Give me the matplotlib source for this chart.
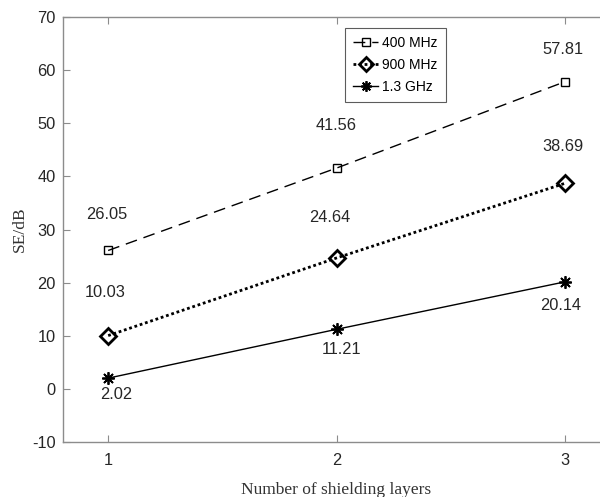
import matplotlib
matplotlib.use("Agg")
import matplotlib.pyplot as plt

plt.rcParams["axes.unicode_minus"] = False

layers = [1, 2, 3]
se_400mhz = [26.05, 41.56, 57.81]
se_900mhz = [10.03, 24.64, 38.69]
se_1p3ghz = [2.02, 11.21, 20.14]

# label anchor points, per series
lab_x_400 = [0.995, 2.0, 2.99]
lab_y_400 = [32.75, 49.5, 63.8]
lab_x_900 = [0.985, 1.97, 2.99]
lab_y_900 = [18.2, 32.2, 45.7]
lab_x_13 = [1.035, 2.02, 2.98]
lab_y_13 = [-1.15, 7.5, 15.6]

SANS = ["Liberation Sans", "DejaVu Sans"]
SERIF = ["Liberation Serif", "DejaVu Serif"]
AXC = "#8c8c8c"
TXC = "#262626"
ASTER = (8, 2, 0)  # matlab-like asterisk

fig = plt.figure(figsize=(6.0, 4.97), dpi=100)
ax = fig.add_axes([62.5 / 600, 1 - 442 / 497, 548 / 600, 425 / 497])

ax.plot(layers, se_400mhz, color="black", ls=(0, (8.5, 5)), lw=1.0,
        marker="s", ms=6, mfc="none", mec="black", mew=1.0, label="400 MHz")
ax.plot(layers, se_900mhz, color="black", ls=(0, (1, 1)), lw=2.0,
        marker="D", ms=8, mfc="none", mec="black", mew=2.0, label="900 MHz")
ax.plot(layers, se_1p3ghz, color="black", ls="-", lw=1.0,
        marker=ASTER, ms=9, mfc="black", mec="black", mew=1.3, label="1.3 GHz")

for xs, ys, vals in [(lab_x_400, lab_y_400, se_400mhz),
                     (lab_x_900, lab_y_900, se_900mhz),
                     (lab_x_13, lab_y_13, se_1p3ghz)]:
    for x, y, v in zip(xs, ys, vals):
        ax.text(x, y, f"{v:.2f}", ha="center", va="center", fontsize=11.8,
                family=SANS, color=TXC)

ax.set_xlim(0.8, 3.2)
ax.set_ylim(-10, 70)
ax.set_xticks(layers)
ax.set_yticks(range(-10, 71, 10))
ax.tick_params(direction="in", length=5, width=0.8, color=AXC,
               labelcolor=TXC, labelsize=11.8, top=True, right=True)
ax.tick_params(axis="x", pad=8)
ax.tick_params(axis="y", pad=5)
for lab in ax.get_xticklabels() + ax.get_yticklabels():
    lab.set_family(SANS)
for sp in ax.spines.values():
    sp.set_color(AXC)
    sp.set_linewidth(1.0)

ax.set_xlabel("Number of shielding layers", family=SERIF, fontsize=12.5,
              color="#333333", labelpad=10)
ax.set_ylabel("SE/dB", family=SERIF, fontsize=12.5, color="#333333",
              labelpad=3)

leg = ax.legend(loc="upper left", bbox_to_anchor=(345 / 600, 1 - 28 / 497),
                bbox_transform=fig.transFigure, prop={"family": SANS, "size": 10},
                frameon=True, fancybox=False, handlelength=1.8,
                handletextpad=0.3, borderpad=0.6, labelspacing=0.55,
                borderaxespad=0, markerscale=0.85)
leg.get_frame().set_edgecolor("#333333")
leg.get_frame().set_linewidth(0.8)

fig.savefig("out.png", dpi=100)
